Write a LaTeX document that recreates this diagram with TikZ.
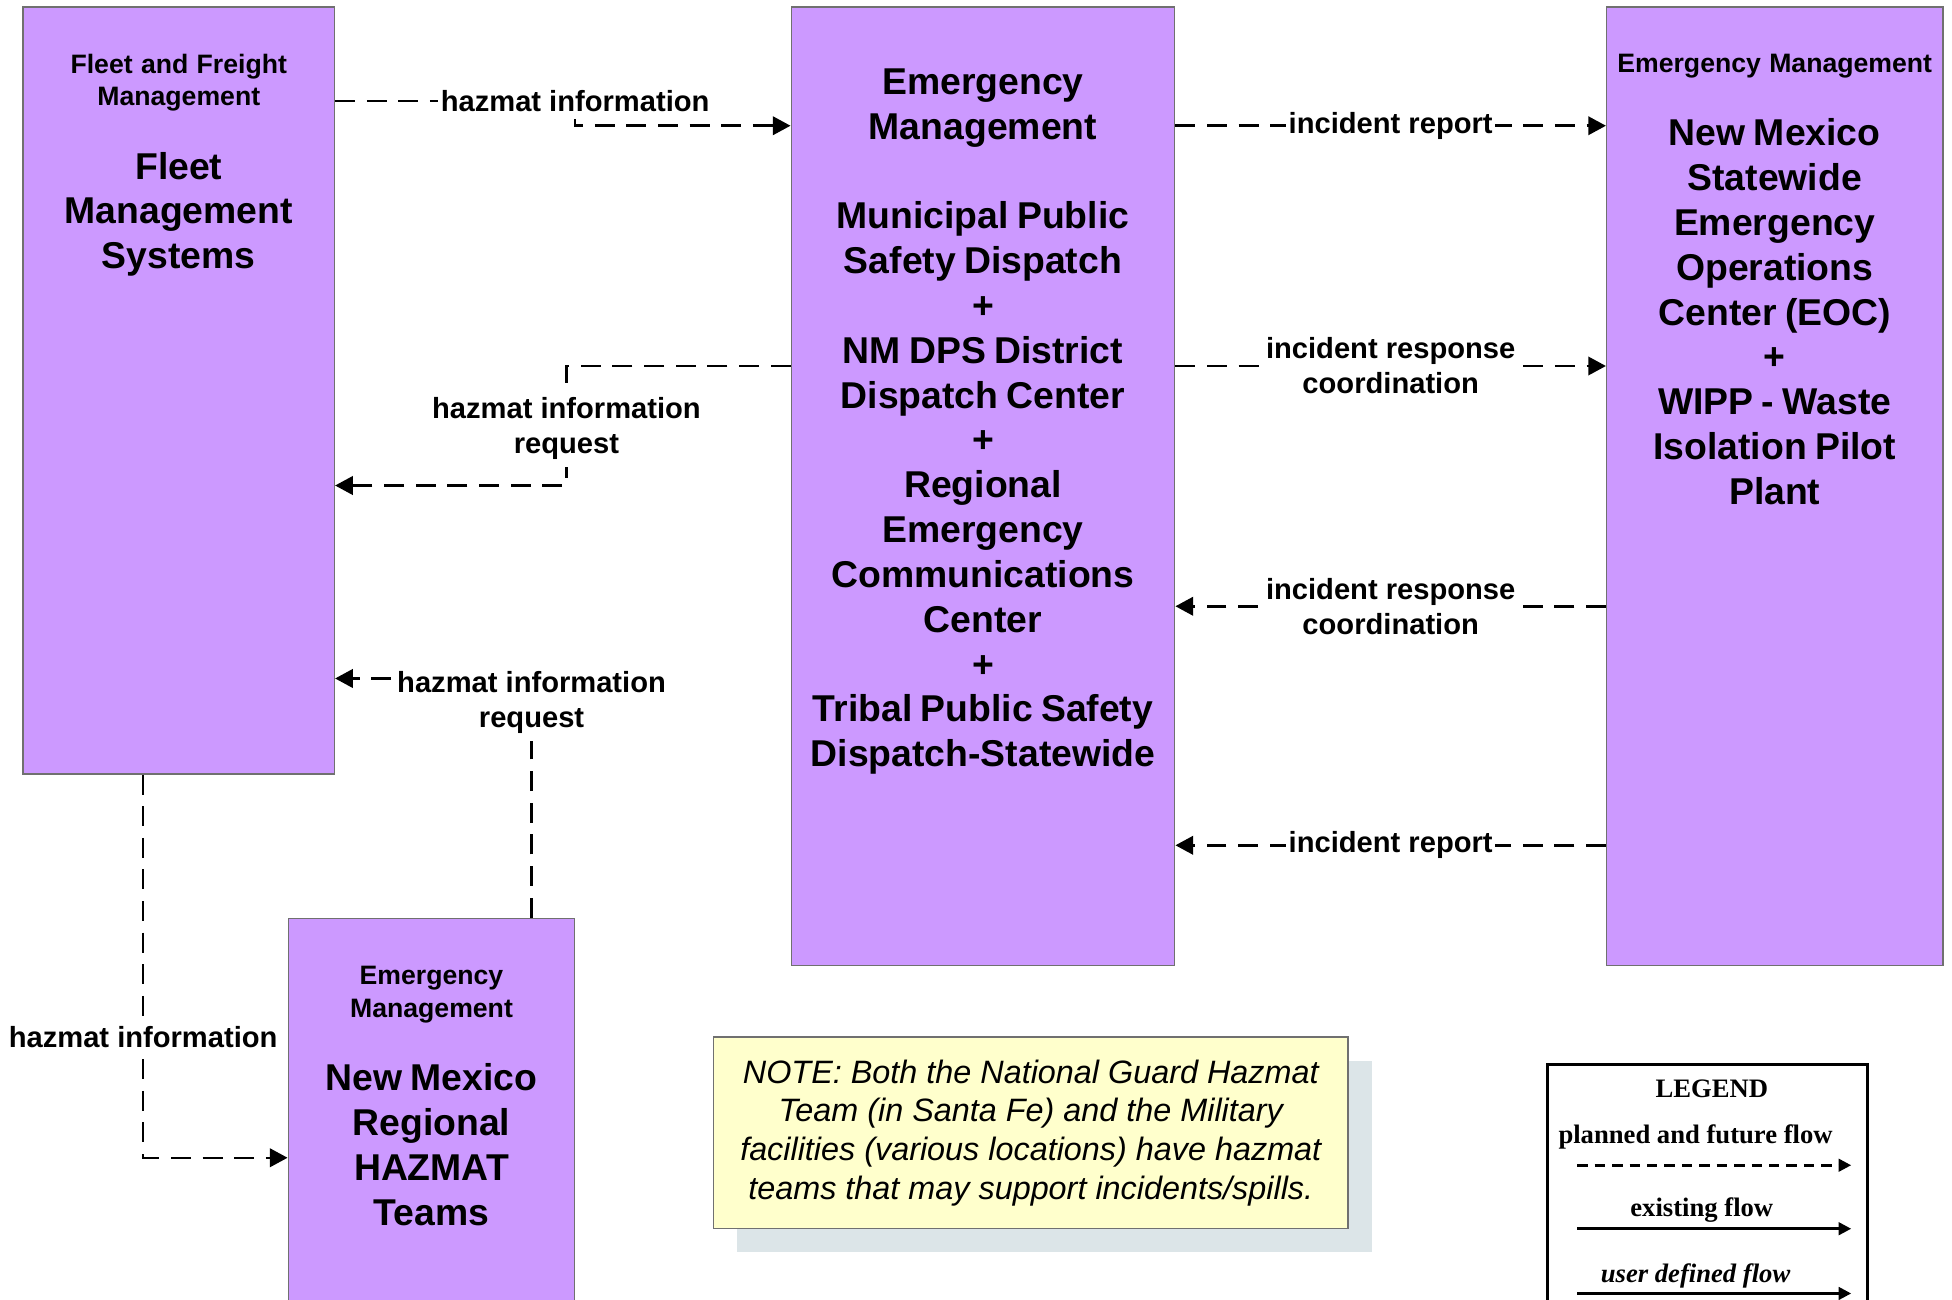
\documentclass[tikz,border=0pt]{standalone}
\usepackage{fontspec}
\setmainfont{Liberation Sans}
\newfontfamily\legendfont{Liberation Serif}
\usetikzlibrary{arrows.meta}
\usetikzlibrary{shadows}
\definecolor{boxpurple}{HTML}{CC99FF}
\definecolor{boxedge}{HTML}{707070}
\definecolor{noteyellow}{HTML}{FFFFCC}
\definecolor{noteshadow}{HTML}{DCE5E8}
\newcommand{\smallfnt}{\fontsize{10.7}{13}\selectfont\bfseries}
\newcommand{\bigfnt}{\fontsize{15}{18}\selectfont\bfseries}
\newcommand{\boxtitle}[2]{{\smallfnt #1\par}\vspace{11.5pt}{\bigfnt #2\par}}
\newcommand{\bigonly}[1]{{\bigfnt #1\par}}
\tikzstyle{sysbox} = [draw=boxedge, line width=0.6pt, fill=boxpurple, anchor=north west, inner sep=0pt]
\tikzstyle{boxtext} = [anchor=north, inner sep=0pt, align=center]
\tikzstyle{flow} = [line width=1pt, dash pattern=on 8pt off 4.7pt, -{Triangle[length=7.1pt,width=7.4pt]}]
\tikzstyle{lbl} = [fill=white, inner xsep=1pt, inner ysep=3pt, align=center, font=\fontsize{11.7}{14}\selectfont\bfseries]
\tikzstyle{legtext} = [inner sep=0pt, font=\legendfont\fontsize{10.7}{13}\selectfont\bfseries]
\tikzstyle{legline} = [line width=1.1pt, -{Triangle[length=5pt,width=5pt]}]

\begin{document}
\begin{tikzpicture}[x=0.5pt,y=-0.5pt]
			\path[use as bounding box, clip] (0,0) rectangle (1568,1044);
			\node[sysbox, minimum width=125pt, minimum height=308pt,
				label={[boxtext, text width=120pt, yshift=-19pt]north:{\boxtitle{Fleet and Freight\\Management}{Fleet\\Management\\Systems}}}] (fleet) at (18,5) {};
			\node[sysbox, minimum width=154pt, minimum height=385pt,
				label={[boxtext, text width=150pt, yshift=-24.9pt]north:{\bigonly{Emergency\\Management\\[18pt]Municipal Public\\Safety Dispatch\\+\\NM DPS District\\Dispatch Center\\+\\Regional\\Emergency\\Communications\\Center\\+\\Tribal Public Safety\\Dispatch-Statewide}}}] (emc) at (635,5) {};
			\node[sysbox, minimum width=135pt, minimum height=385pt,
				label={[boxtext, text width=132pt, yshift=-19pt]north:{\boxtitle{Emergency Management}{New Mexico\\Statewide\\Emergency\\Operations\\Center (EOC)\\+\\WIPP - Waste\\Isolation Pilot\\Plant}}}] (eoc) at (1290,5) {};
			\node[sysbox, minimum width=115pt, minimum height=190pt,
				label={[boxtext, text width=110pt, yshift=-19.5pt]north:{\boxtitle{Emergency\\Management}{New Mexico\\Regional\\HAZMAT\\Teams}}}] (hazmat) at (231,737) {};
			\node[draw=boxedge, line width=0.6pt, fill=noteyellow, minimum width=255pt, minimum height=77pt, align=center,
				drop shadow={shadow xshift=9.5pt, shadow yshift=-9.5pt, fill=noteshadow, opacity=1},
				font=\fontsize{13}{15.5}\selectfont\itshape] (note) at (828,910)
				{NOTE: Both the National Guard Hazmat\\Team (in Santa Fe) and the Military\\facilities (various locations) have hazmat\\teams that may support incidents/spills.};
			\draw[flow] (fleet.east |- 0,81) -| node[lbl]{hazmat information} (462,101) -- (emc.west |- 0,101);
			\draw[flow] (emc.west |- 0,294) -| node[lbl, pos=0.76]{hazmat information\\request} (455,390) -- (fleet.east |- 0,390);
			\draw[flow] (hazmat.north -| 427,0) |- node[lbl, pos=0.45]{hazmat information\\request} (fleet.east |- 0,545);
			\draw[flow] (fleet.south -| 115,0) |- node[lbl, pos=0.343]{hazmat information} (hazmat.west |- 0,930);
			\draw[flow] (emc.east |- 0,101) -- node[lbl]{incident report} (eoc.west |- 0,101);
			\draw[flow] (emc.east |- 0,294) -- node[lbl]{incident response\\coordination} (eoc.west |- 0,294);
			\draw[flow] (eoc.west |- 0,487) -- node[lbl]{incident response\\coordination} (emc.east |- 0,487);
			\draw[flow] (eoc.west |- 0,679) -- node[lbl]{incident report} (emc.east |- 0,679);
			\node[draw=black, line width=1.1pt, anchor=north west, minimum width=128.5pt, minimum height=130pt] (legend) at (1242,854) {};
			\node[legtext] (legtitle) at (1375,875) {LEGEND};
			\node[legtext] (legplanned) at (1362,913) {planned and future flow};
			\node[legtext] (legexisting) at (1367,972) {existing flow};
			\node[legtext, font=\legendfont\fontsize{10.7}{13}\selectfont\bfseries\itshape] (leguser) at (1362,1025) {user defined flow};
			\draw[legline, dash pattern=on 4.2pt off 2.8pt] (1267,936) -- (1487,936);
			\foreach \y in {987,1039}
				\draw[legline] (1267,\y) -- (1487,\y);
		\end{tikzpicture}
\end{document}
